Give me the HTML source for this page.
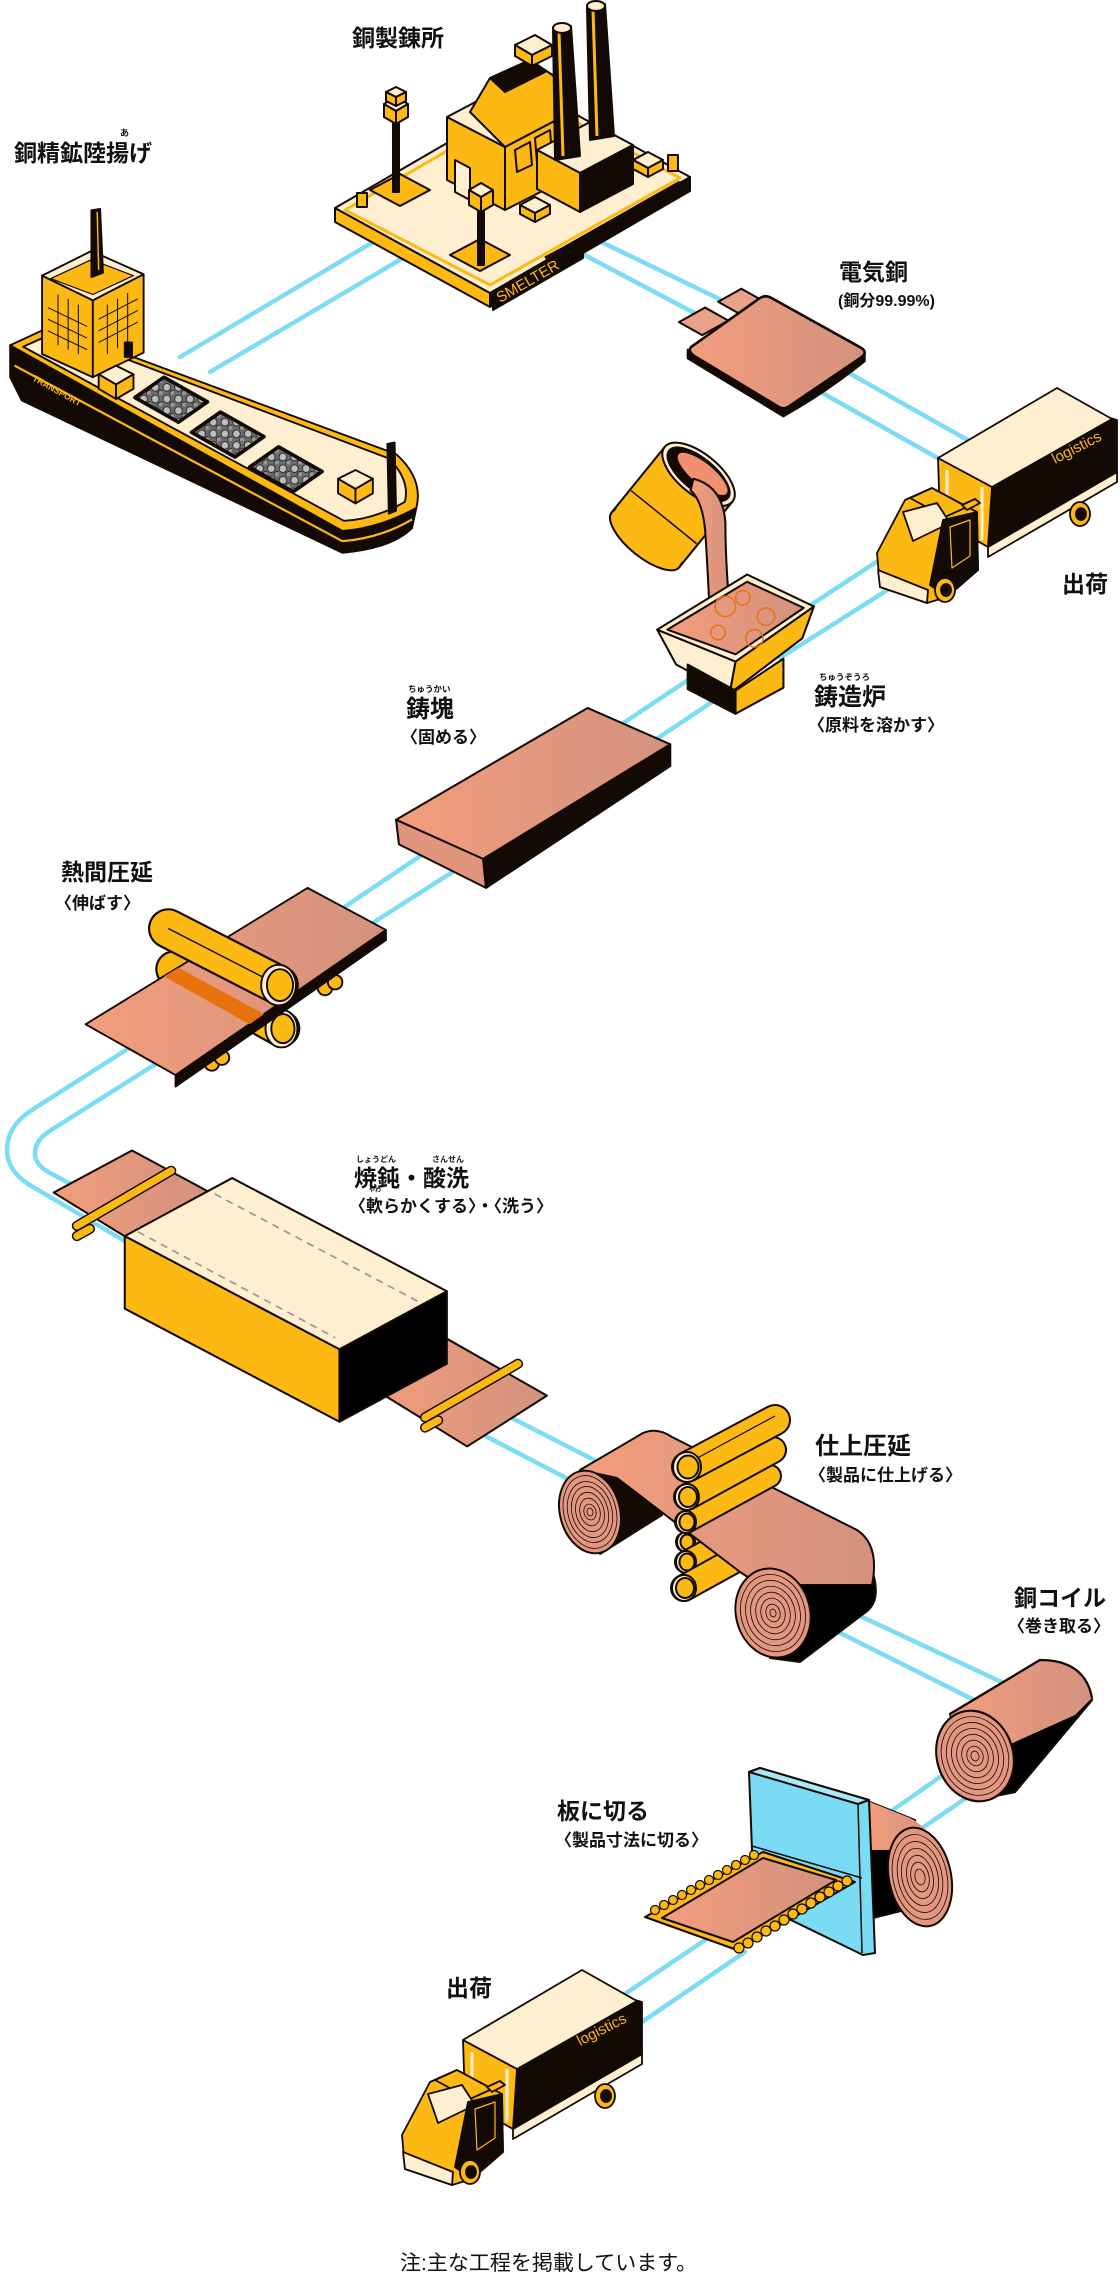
<!DOCTYPE html>
<html><head><meta charset="utf-8"><style>
html,body{margin:0;padding:0;background:#fff;}
svg{display:block;}
.t{font-family:"Liberation Sans","Noto Sans CJK JP",sans-serif;font-weight:bold;fill:#111;}
.r{font-family:"Liberation Sans","Noto Sans CJK JP",sans-serif;font-weight:bold;fill:#111;}
</style></head><body>
<svg width="1120" height="2274" viewBox="0 0 1120 2274" xmlns="http://www.w3.org/2000/svg">
<defs>
<linearGradient id="cu" x1="0" y1="0" x2="1" y2="0"><stop offset="0" stop-color="#F29D7D"/><stop offset="1" stop-color="#D3927E"/></linearGradient>
<pattern id="rock" width="8" height="8" patternUnits="userSpaceOnUse"><rect width="8" height="8" fill="#6b6b6b"/><circle cx="3" cy="3" r="2.6" fill="#bdbdbd" stroke="#222" stroke-width="0.6"/><circle cx="7" cy="7" r="2" fill="#9a9a9a" stroke="#222" stroke-width="0.6"/></pattern>
</defs>

<!-- RAILS -->
<g stroke="#7DDCF5" stroke-width="4.5" fill="none" stroke-linecap="round">
<line x1="180" y1="357" x2="400" y2="226"/><line x1="210" y1="372" x2="420" y2="248"/>
<line x1="560" y1="222" x2="740" y2="309"/><line x1="560" y1="242" x2="700" y2="316"/>
<line x1="840" y1="368" x2="980" y2="447"/><line x1="810" y1="386" x2="950" y2="465"/>
<line x1="890" y1="553" x2="800" y2="612"/><line x1="900" y1="582" x2="780" y2="658"/>
<line x1="700" y1="672" x2="610" y2="732"/><line x1="730" y1="690" x2="640" y2="750"/>
<line x1="435" y1="846" x2="340" y2="910"/><line x1="468" y1="862" x2="365" y2="928"/>
<path d="M140,1041 L32,1110 Q7,1126 7,1150 Q7,1170 28,1184 L140,1250"/>
<path d="M170,1055 L48,1132 Q34,1142 35,1155 Q36,1166 52,1174 L110,1205"/>
<line x1="500" y1="1412" x2="600" y2="1463"/><line x1="470" y1="1428" x2="570" y2="1480"/>
<line x1="830" y1="1602" x2="1010" y2="1686"/><line x1="810" y1="1618" x2="990" y2="1708"/>
<line x1="960" y1="1763" x2="870" y2="1826"/><line x1="985" y1="1785" x2="915" y2="1833"/>
<line x1="720" y1="1930" x2="610" y2="2004"/><line x1="745" y1="1952" x2="630" y2="2030"/>
</g>

<!-- SHIP (preview coords) -->
<g transform="scale(1.4508)" stroke="#140A05" stroke-width="1.3" stroke-linejoin="round">
<path d="M7,238 L236,366 Q262,364 287,350 L284,364 Q270,378 236,381 L15,276 L7,260 Z" fill="#140A05"/>
<path d="M10,252 L236,373 Q262,371 284,358" fill="none" stroke="#FDB913" stroke-width="1.5"/>
<path d="M7,238 L35,225 L273,313 Q292,330 287,350 Q262,364 236,366 Z" fill="#FDB913"/>
<path d="M16,239 L38,229 L268,316 Q283,331 279,346 Q258,358 237,359 Z" fill="#FEEFD0"/>
<text x="22" y="262" transform="rotate(29 22 262)" font-family="Liberation Sans" font-weight="bold" font-size="6" fill="#FDB913" stroke="none">TRANSPORT</text>
<polygon points="93,274 123,291 143,277 113,260" fill="url(#rock)" stroke-width="2.5"/>
<polygon points="132,298 162,315 182,301 152,284" fill="url(#rock)" stroke-width="2.5"/>
<polygon points="172,322 202,339 222,325 192,308" fill="url(#rock)" stroke-width="2.5"/>
<polygon points="29,190 64,207 64,260 29,244" fill="#FDB913"/>
<polygon points="64,207 99,189 99,243 64,260" fill="#FDB913"/>
<polygon points="29,190 63,173 99,189 64,207" fill="#FEEFD0"/>
<polygon points="35,192 63,179 92,190 64,203" fill="#FDB913" stroke-width="0.8"/>
<g fill="none" stroke-width="0.7"><path d="M33,212 L60,225 M33,220 L60,233 M33,228 L60,241 M40,203 L40,238 M47,206 L47,241 M54,210 L54,244"/>
<path d="M68,220 L95,206 M68,228 L95,214 M68,236 L95,222 M74,210 L74,244 M81,206 L81,240 M88,202 L88,236"/></g>
<rect x="86" y="236" width="5" height="10" fill="#140A05"/>
<polygon points="63,145 69,144 71,188 63,191" fill="#140A05"/><line x1="67" y1="146" x2="68" y2="186" stroke="#FDB913" stroke-width="1"/>
<polygon points="68,258 80,252 92,258 80,265" fill="#FEEFD0"/><polygon points="68,258 80,265 80,275 68,268" fill="#FDB913"/><polygon points="80,265 92,258 92,268 80,275" fill="#FDB913"/>
<polygon points="233,330 245,324 257,330 245,337" fill="#FEEFD0"/><polygon points="233,330 245,337 245,347 233,340" fill="#FDB913"/><polygon points="245,337 257,330 257,340 245,347" fill="#FDB913"/>
<polygon points="267,306 272,305 273,352 268,354" fill="#140A05"/>
</g>

<!-- SMELTER (actual coords) -->
<g stroke="#140A05" stroke-width="2" stroke-linejoin="round">
<polygon points="335,208 490,293 490,307 335,222" fill="#FDB913"/>
<polygon points="490,293 690,177 690,191 490,307" fill="#140A05"/>
<polygon points="335,208 535,92 690,177 490,293" fill="#FEEFD0"/>
<polygon points="345,210 535,100 680,178 490,285" fill="none" stroke="#FDB913" stroke-width="3"/>
<polygon points="493,292 583,240 583,258 493,310" fill="#140A05"/>
<text x="500" y="303" transform="rotate(-30 500 303)" font-family="Liberation Sans" font-size="15" fill="#FDB913" stroke="none">SMELTER</text>
<polygon points="370,190 400,174 430,190 400,206" fill="#FDB913"/>
<polygon points="450,255 480,239 510,255 480,271" fill="#FDB913"/>
<polygon points="447,117 505,147 505,210 447,180" fill="#FDB913"/>
<polygon points="505,147 560,118 560,182 505,210" fill="#FDB913"/>
<polygon points="447,117 502,88 560,118 505,147" fill="#FEEFD0"/>
<polygon points="470,112 490,78 530,60 560,80 560,118 505,147" fill="#FDB913"/>
<polygon points="490,78 530,60 545,72 505,92" fill="#140A05"/>
<polygon points="515,150 530,142 532,165 517,172" fill="none"/>
<polygon points="535,138 550,130 552,155 537,162" fill="none"/>
<polygon points="455,160 470,168 470,200 455,192" fill="#FEEFD0"/>
<polygon points="537,150 590,122 633,145 580,173" fill="#FEEFD0"/>
<polygon points="537,150 580,173 580,212 537,189" fill="#FDB913"/>
<polygon points="580,173 633,145 633,184 580,212" fill="#140A05"/>
<polygon points="553,30 571,26 580,156 555,160" fill="#140A05"/><line x1="559" y1="32" x2="563" y2="156" stroke="#FDB913" stroke-width="3"/>
<ellipse cx="562" cy="28" rx="9" ry="5" fill="#FEEFD0"/>
<polygon points="587,8 605,4 614,136 590,140" fill="#140A05"/><line x1="593" y1="10" x2="597" y2="136" stroke="#FDB913" stroke-width="3"/>
<ellipse cx="596" cy="6" rx="9" ry="5" fill="#FEEFD0"/>
<polygon points="515,45 535,35 552,45 532,55" fill="#FEEFD0"/><polygon points="515,45 532,55 532,66 515,56" fill="#FDB913"/><polygon points="532,55 552,45 552,56 532,66" fill="#FDB913"/>
<rect x="393" y="120" width="6" height="72" fill="#140A05"/>
<polygon points="384,104 396,97 408,104 396,111" fill="#FEEFD0"/><polygon points="384,104 396,111 396,124 384,117" fill="#FDB913"/><polygon points="396,111 408,104 408,117 396,124" fill="#FDB913"/>
<polygon points="386,92 396,87 406,92 396,97" fill="#FEEFD0"/><polygon points="386,92 396,97 396,106 386,101" fill="#FDB913"/><polygon points="396,97 406,92 406,101 396,106" fill="#FDB913"/>
<rect x="478" y="205" width="6" height="60" fill="#140A05"/>
<polygon points="469,190 481,183 493,190 481,197" fill="#FEEFD0"/><polygon points="469,190 481,197 481,212 469,205" fill="#FDB913"/><polygon points="481,197 493,190 493,205 481,212" fill="#FDB913"/>
<polygon points="520,205 535,197 550,205 535,213" fill="#FEEFD0"/><polygon points="520,205 535,213 535,222 520,214" fill="#FDB913"/><polygon points="535,213 550,205 550,214 535,222" fill="#FDB913"/>
<polygon points="633,160 648,152 663,160 648,168" fill="#FEEFD0"/><polygon points="633,160 648,168 648,177 633,169" fill="#FDB913"/><polygon points="648,168 663,160 663,169 648,177" fill="#FDB913"/>
<rect x="668" y="155" width="10" height="16" fill="#FDB913"/>
<rect x="357" y="193" width="10" height="14" fill="#FDB913"/>
<path d="M560,250 L680,182 M545,258 L560,250" fill="none" stroke-width="3"/>
</g>

<!-- ELECTROLYTIC COPPER (preview coords) -->
<g transform="scale(1.4508)" stroke="#140A05" stroke-width="1.4" stroke-linejoin="round">
<polygon points="468,222 486,212 502,221 484,231" fill="#E9A28A"/>
<polygon points="495,208 511,199 527,208 511,217" fill="#E9A28A"/>
<path d="M474,241 L540,281 L596,243 L596,249 Q570,270 540,287 L474,247 Z" fill="#140A05"/>
<path d="M478,238 L523,206 Q527,203 531,205 L594,240 Q598,243 594,246 L544,280 Q540,283 536,280 L478,245 Q473,241 478,238 Z" fill="url(#cu)" stroke-width="1.8"/>
</g>

<!-- TRUCK 1 (actual) -->
<g id="truck" stroke="#140A05" stroke-width="1.8" stroke-linejoin="round">
<polygon points="988,547 1117,472 1117,482 988,557" fill="#FEEFD0"/>
<polygon points="992,487 1110,418 1117,420 1117,472 988,547" fill="#140A05"/>
<polygon points="938,458 992,487 988,547 940,520" fill="#FDB913"/>
<line x1="947" y1="470" x2="947" y2="520" stroke="#FEEFD0" stroke-width="3"/><line x1="982" y1="487" x2="982" y2="540" stroke="#FEEFD0" stroke-width="3"/>
<polygon points="938,458 1057,388 1112,419 992,487" fill="#FEEFD0"/>
<text x="1055" y="464" transform="rotate(-27 1055 464)" font-family="Liberation Sans" font-size="15" fill="#FDB913" stroke="none">logistics</text>
<polygon points="877,553 905,500 932,488 977,512 978,570 947,597 927,603 880,587" fill="#FDB913"/>
<polygon points="910,498 932,488 967,507 945,517" fill="#FDB913"/>
<polygon points="903,512 937,503 950,523 913,541" fill="#FEEFD0"/>
<polygon points="943,520 977,512 978,570 947,597 930,585" fill="#140A05"/>
<polygon points="950,527 970,520 970,556 952,568" fill="none" stroke="#FDB913" stroke-width="1.2"/>
<polygon points="878,570 928,590 927,603 880,587" fill="#FEEFD0"/>
<polygon points="962,505 975,499 980,503 967,510" fill="#FDB913"/>
<ellipse cx="945" cy="590" rx="10" ry="12" fill="#FDB913"/><ellipse cx="946" cy="590" rx="5" ry="6" fill="#140A05"/>
<ellipse cx="1080" cy="514" rx="10" ry="12" fill="#FDB913"/><ellipse cx="1081" cy="514" rx="5" ry="6" fill="#140A05"/>
</g>
<use href="#truck" transform="translate(-475,1582)"/>

<!-- LADLE & FURNACE (preview coords) -->
<g transform="scale(1.4508)" stroke="#140A05" stroke-width="1.4" stroke-linejoin="round">
<g transform="translate(445,372) rotate(-51)">
<rect x="0" y="-30" width="58" height="60" fill="#FDB913"/>
<ellipse cx="0" cy="0" rx="12" ry="30" fill="#FDB913"/>
<rect x="1" y="-29" width="20" height="58" fill="#FDB913" stroke="none"/>
<line x1="20" y1="-29" x2="20" y2="29" stroke-width="1"/>
<ellipse cx="58" cy="0" rx="14" ry="30" fill="#FEEFD0"/>
<ellipse cx="58" cy="0" rx="11" ry="26" fill="#140A05"/>
<ellipse cx="60" cy="2" rx="8" ry="22" fill="#F0906E"/>
</g>
<path d="M478,330 Q498,335 500,360 Q500,395 505,440 L490,440 Q488,395 486,365 Q484,345 476,338 Z" fill="url(#cu)"/>
<polygon points="453,434 507,456 503,478 466,458" fill="#FEEFD0"/>
<polygon points="507,456 561,418 553,440 503,478" fill="#FDB913"/>
<polygon points="474,458 507,476 507,492 474,475" fill="#140A05"/>
<polygon points="507,476 540,454 540,474 507,492" fill="#FDB913"/>
<polygon points="453,434 515,396 561,418 507,456" fill="#FEEFD0"/>
<polygon points="460,434 515,401 554,419 507,451" fill="url(#cu)"/>
<g fill="none" stroke="#E8730D" stroke-width="1"><circle cx="500" cy="418" r="7"/><circle cx="512" cy="412" r="5"/><circle cx="528" cy="425" r="6"/><circle cx="495" cy="436" r="5"/><circle cx="520" cy="440" r="6"/></g>
</g>

<!-- INGOT -->
<g transform="scale(1.4508)" stroke="#140A05" stroke-width="1.4" stroke-linejoin="round">
<polygon points="273,565 333,592 335,612 275,582" fill="#E1957C"/>
<polygon points="333,592 462,513 462,528 335,612" fill="#140A05"/>
<polygon points="273,565 405,488 462,513 333,592" fill="url(#cu)"/>
</g>

<!-- HOT ROLLING -->
<g transform="scale(1.4508)" stroke="#140A05" stroke-width="1.3" stroke-linejoin="round">
<line x1="120" y1="668" x2="194" y2="709" stroke-width="26" stroke-linecap="round"/>
<line x1="120" y1="668" x2="194" y2="709" stroke="#FDB913" stroke-width="23" stroke-linecap="round"/>
<ellipse cx="194" cy="709" rx="11" ry="13" fill="#FEEFD0"/><ellipse cx="195" cy="709" rx="8" ry="10" fill="#FDB913"/>
<circle cx="224" cy="681" r="5" fill="#FDB913"/><circle cx="231" cy="677" r="5" fill="#FDB913"/>
<circle cx="146" cy="733" r="5" fill="#FDB913"/><circle cx="153" cy="729" r="5" fill="#FDB913"/>
<polygon points="121,741 266,641 266,648 121,749" fill="#140A05"/>
<polygon points="59,706 212,612 266,641 121,741" fill="url(#cu)"/>
<polygon points="113,673 123,667 182,699 172,706" fill="#E8730D" stroke="none"/>
<line x1="116" y1="640" x2="192" y2="679" stroke-width="28" stroke-linecap="round"/>
<line x1="116" y1="640" x2="192" y2="679" stroke="#FDB913" stroke-width="25" stroke-linecap="round"/>
<line x1="116" y1="640" x2="190" y2="678" stroke-width="1"/>
<ellipse cx="192" cy="679" rx="12" ry="14" fill="#FEEFD0"/><ellipse cx="193" cy="679" rx="9" ry="11" fill="#FDB913"/>
</g>

<!-- ANNEALING -->
<g transform="scale(1.4508)" stroke="#140A05" stroke-width="1.4" stroke-linejoin="round">
<polygon points="37,822 91,793 143,821 89,854" fill="url(#cu)"/>
<line x1="53" y1="845" x2="118" y2="807" stroke-width="7" stroke-linecap="round"/>
<line x1="53" y1="845" x2="118" y2="807" stroke="#FDB913" stroke-width="5" stroke-linecap="round"/>
<line x1="53" y1="852" x2="62" y2="847" stroke-width="7" stroke-linecap="round"/>
<line x1="53" y1="852" x2="62" y2="847" stroke="#FDB913" stroke-width="5" stroke-linecap="round"/>
<polygon points="254,955 305,921 377,962 322,997" fill="url(#cu)"/>
<polygon points="86,852 234,930 234,980 86,902" fill="#FDB913"/>
<polygon points="234,930 308,890 308,940 234,980" fill="#000"/>
<polygon points="86,852 160,812 308,890 234,930" fill="#FEEFD0"/>
<g stroke="#999" stroke-dasharray="5,4" stroke-width="1.2"><line x1="95" y1="849" x2="231" y2="922"/><line x1="148" y1="823" x2="290" y2="898"/></g>
<line x1="293" y1="977" x2="357" y2="940" stroke-width="7" stroke-linecap="round"/>
<line x1="293" y1="977" x2="357" y2="940" stroke="#FDB913" stroke-width="5" stroke-linecap="round"/>
<line x1="293" y1="984" x2="302" y2="979" stroke-width="7" stroke-linecap="round"/>
<line x1="293" y1="984" x2="302" y2="979" stroke="#FDB913" stroke-width="5" stroke-linecap="round"/>
</g>

<!-- FINISHING ROLLING (actual) -->
<g stroke="#140A05" stroke-width="2" stroke-linejoin="round">
<path d="M585,1470 L650,1437 L662,1515 L600,1554 Z" fill="#140A05"/>
<line x1="686" y1="1542" x2="760" y2="1502" stroke-width="22" stroke-linecap="round"/><line x1="686" y1="1542" x2="760" y2="1502" stroke="#FDB913" stroke-width="18" stroke-linecap="round"/><ellipse cx="686" cy="1542" rx="9" ry="10" fill="#FEEFD0"/><ellipse cx="687" cy="1542" rx="6.5" ry="7.5" fill="#FDB913"/>
<line x1="686" y1="1562" x2="760" y2="1522" stroke-width="24" stroke-linecap="round"/><line x1="686" y1="1562" x2="760" y2="1522" stroke="#FDB913" stroke-width="20" stroke-linecap="round"/><ellipse cx="686" cy="1562" rx="10" ry="11" fill="#FEEFD0"/><ellipse cx="687" cy="1562" rx="7.5" ry="8.5" fill="#FDB913"/>
<line x1="684" y1="1588" x2="760" y2="1546" stroke-width="28" stroke-linecap="round"/><line x1="684" y1="1588" x2="760" y2="1546" stroke="#FDB913" stroke-width="24" stroke-linecap="round"/><ellipse cx="684" cy="1588" rx="12" ry="13" fill="#FEEFD0"/><ellipse cx="685" cy="1588" rx="9" ry="10" fill="#FDB913"/>
<path d="M760,1570 L872,1570 Q882,1600 866,1612 L800,1662 L770,1658 Z" fill="#000"/>
<path d="M580,1470 L643,1433 Q657,1427 672,1437 L857,1530 Q880,1545 872,1585 L760,1585 L740,1572 L617,1478 Z" fill="url(#cu)"/>
<g transform="rotate(-15 590 1512)"><ellipse cx="590" cy="1512" rx="30" ry="42" fill="#E39680"/>
<g fill="none" stroke-width="0.8"><ellipse cx="590" cy="1512" rx="26" ry="37"/><ellipse cx="590" cy="1512" rx="22" ry="31"/><ellipse cx="590" cy="1512" rx="18" ry="26"/><ellipse cx="590" cy="1512" rx="14" ry="20"/><ellipse cx="590" cy="1512" rx="10" ry="14"/><ellipse cx="590" cy="1512" rx="6" ry="8"/><ellipse cx="590" cy="1512" rx="3" ry="4"/></g></g>
<g transform="rotate(-15 773 1613)"><ellipse cx="773" cy="1613" rx="37" ry="45" fill="#E39680"/>
<g fill="none" stroke-width="0.8"><ellipse cx="773" cy="1613" rx="32" ry="39"/><ellipse cx="773" cy="1613" rx="27" ry="33"/><ellipse cx="773" cy="1613" rx="22" ry="27"/><ellipse cx="773" cy="1613" rx="17" ry="21"/><ellipse cx="773" cy="1613" rx="12" ry="15"/><ellipse cx="773" cy="1613" rx="7" ry="9"/><ellipse cx="773" cy="1613" rx="3" ry="4"/></g></g>
<line x1="686" y1="1522" x2="770" y2="1476" stroke-width="24" stroke-linecap="round"/><line x1="686" y1="1522" x2="770" y2="1476" stroke="#FDB913" stroke-width="20" stroke-linecap="round"/><ellipse cx="686" cy="1522" rx="10" ry="11" fill="#FEEFD0"/><ellipse cx="687" cy="1522" rx="7.5" ry="8.5" fill="#FDB913"/>
<line x1="687" y1="1497" x2="773" y2="1450" stroke-width="28" stroke-linecap="round"/><line x1="687" y1="1497" x2="773" y2="1450" stroke="#FDB913" stroke-width="24" stroke-linecap="round"/><ellipse cx="687" cy="1497" rx="12" ry="13" fill="#FEEFD0"/><ellipse cx="688" cy="1497" rx="9" ry="10" fill="#FDB913"/>
<line x1="687" y1="1467" x2="775" y2="1420" stroke-width="32" stroke-linecap="round"/><line x1="687" y1="1467" x2="775" y2="1420" stroke="#FDB913" stroke-width="28" stroke-linecap="round"/><line x1="690" y1="1462" x2="775" y2="1416" stroke-width="1.2"/><ellipse cx="687" cy="1467" rx="14" ry="15" fill="#FEEFD0"/><ellipse cx="688" cy="1467" rx="10.5" ry="11.5" fill="#FDB913"/>
</g>

<!-- COIL -->
<g stroke="#140A05" stroke-width="2.2" stroke-linejoin="round">
<path d="M950,1714 L1040,1660 Q1085,1665 1092,1700 L1015,1792 L975,1800 Z" fill="#000"/>
<path d="M950,1714 L1040,1660 Q1085,1660 1092,1698 L1075,1715 L975,1760 Z" fill="url(#cu)" stroke="none"/>
<path d="M950,1714 L1040,1660 Q1085,1660 1092,1698" fill="none"/>
<g transform="rotate(-18 975 1756)"><ellipse cx="975" cy="1756" rx="38" ry="46" fill="#E39680"/>
<g fill="none" stroke-width="0.8"><ellipse cx="975" cy="1756" rx="33" ry="40"/><ellipse cx="975" cy="1756" rx="28" ry="34"/><ellipse cx="975" cy="1756" rx="23" ry="28"/><ellipse cx="975" cy="1756" rx="18" ry="22"/><ellipse cx="975" cy="1756" rx="13" ry="16"/><ellipse cx="975" cy="1756" rx="8" ry="10"/><ellipse cx="975" cy="1756" rx="4" ry="5"/></g></g>
</g>

<!-- CUTTER -->
<g stroke="#140A05" stroke-width="2" stroke-linejoin="round">
<path d="M865,1800 L915,1820 L925,1905 L873,1918 Z" fill="#000"/>
<path d="M865,1800 L910,1818 Q930,1828 935,1850 L870,1850 Z" fill="url(#cu)" stroke="none"/>
<g transform="rotate(-12 920 1877)"><ellipse cx="920" cy="1877" rx="31" ry="50" fill="#E39680"/>
<g fill="none" stroke-width="0.8"><ellipse cx="920" cy="1877" rx="27" ry="43"/><ellipse cx="920" cy="1877" rx="22" ry="36"/><ellipse cx="920" cy="1877" rx="18" ry="29"/><ellipse cx="920" cy="1877" rx="13" ry="22"/><ellipse cx="920" cy="1877" rx="9" ry="15"/><ellipse cx="920" cy="1877" rx="5" ry="8"/></g></g>
<polygon points="749,1772 760,1768 869,1800 875,1953 863,1955 760,1905 752,1850" fill="#7ADCF4"/>
<polygon points="749,1772 760,1768 869,1800 858,1804" fill="#A8E9F9"/>
<line x1="858" y1="1804" x2="862" y2="1953" stroke-width="1.5"/>
<line x1="752" y1="1846" x2="862" y2="1878" stroke-width="1.5"/>
<polygon points="645,1917 763,1852 855,1882 737,1950" fill="#FDB913"/>
<polygon points="662,1918 763,1858 836,1880 733,1942" fill="url(#cu)"/>
<g fill="#FDB913" stroke-width="1.2">
<circle cx="655" cy="1910" r="4.5"/><circle cx="664" cy="1905" r="4.5"/><circle cx="673" cy="1900" r="4.5"/><circle cx="682" cy="1895" r="4.5"/><circle cx="691" cy="1890" r="4.5"/><circle cx="700" cy="1885" r="4.5"/><circle cx="709" cy="1880" r="4.5"/><circle cx="718" cy="1875" r="4.5"/><circle cx="727" cy="1870" r="4.5"/><circle cx="736" cy="1865" r="4.5"/><circle cx="745" cy="1860" r="4.5"/><circle cx="754" cy="1855" r="4.5"/>
<circle cx="739" cy="1948" r="5"/><circle cx="748" cy="1943" r="5"/><circle cx="757" cy="1937" r="5"/><circle cx="766" cy="1931" r="5"/><circle cx="775" cy="1926" r="5"/><circle cx="784" cy="1920" r="5"/><circle cx="793" cy="1914" r="5"/><circle cx="802" cy="1909" r="5"/><circle cx="811" cy="1903" r="5"/><circle cx="820" cy="1897" r="5"/><circle cx="829" cy="1892" r="5"/><circle cx="838" cy="1886" r="5"/><circle cx="847" cy="1881" r="5"/>
</g>
</g>

<!-- LABELS -->
<g class="t">
<text x="352" y="46" font-size="23" class="t">銅製錬所</text>
<text x="120" y="136" font-size="9" class="r">あ</text>
<text x="14" y="161" font-size="23" class="t">銅精鉱陸揚げ</text>
<text x="839" y="280" font-size="23" class="t">電気銅</text>
<text x="838" y="306" font-size="16" class="t">(銅分99.99%)</text>
<text x="1062" y="592" font-size="23" class="t">出荷</text>
<text x="819" y="680" font-size="8.5" class="r">ちゅうぞうろ</text>
<text x="814" y="705" font-size="24" class="t">鋳造炉</text>
<text x="808" y="731" font-size="17" class="t">〈原料を溶かす〉</text>
<text x="408" y="692" font-size="8.5" class="r">ちゅうかい</text>
<text x="406" y="717" font-size="24" class="t">鋳塊</text>
<text x="401" y="743" font-size="17" class="t">〈固める〉</text>
<text x="61" y="880" font-size="23" class="t">熱間圧延</text>
<text x="55" y="909" font-size="17" class="t">〈伸ばす〉</text>
<text x="356" y="1162" font-size="8" class="r">しょうどん</text>
<text x="432" y="1162" font-size="8" class="r">さんせん</text>
<text x="354" y="1186" font-size="23" class="t">焼鈍・酸洗</text>
<text x="369" y="1192" font-size="6" class="r">やわ</text>
<text x="349" y="1212" font-size="17" class="t">〈軟らかくする〉・〈洗う〉</text>
<text x="815" y="1454" font-size="24" class="t">仕上圧延</text>
<text x="809" y="1481" font-size="17" class="t">〈製品に仕上げる〉</text>
<text x="1014" y="1606" font-size="23" class="t">銅コイル</text>
<text x="1008" y="1632" font-size="17" class="t">〈巻き取る〉</text>
<text x="557" y="1819" font-size="23" class="t">板に切る</text>
<text x="555" y="1846" font-size="17" class="t">〈製品寸法に切る〉</text>
<text x="446" y="1996" font-size="23" class="t">出荷</text>
<text x="400" y="2270" font-size="21" style="font-weight:normal">注:主な工程を掲載しています。</text>
</g>
</svg>
</body></html>
